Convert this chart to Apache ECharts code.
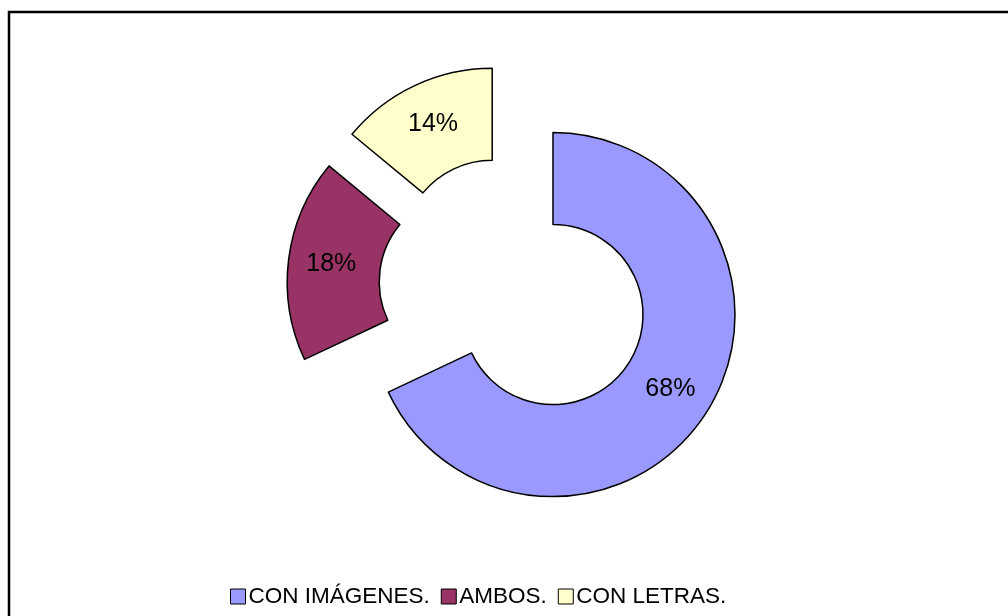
<!DOCTYPE html>
<html>
<head>
<meta charset="utf-8">
<script src="https://cdn.jsdelivr.net/npm/echarts@6/dist/echarts.min.js"></script>
<style>
  html, body { margin: 0; padding: 0; background: #fff; }
  #main { width: 1008px; height: 616px; }
</style>
</head>
<body>
<div id="main"></div>
<script>
// categories and values
var categories = ['CON IMÁGENES.', 'AMBOS.', 'CON LETRAS.'];
var values = [68, 18, 14];
var colors = ['#9999FF', '#993366', '#FFFFCC'];

// the big slice is pulled out a bit further than the two small ones
function buildData(showIdx){
    var data = [];
    for (var i = 0; i < categories.length; i++) {
        var shown = showIdx.indexOf(i) >= 0;
        data.push({
            value: values[i],
            name: categories[i],
            selected: true,
            itemStyle: shown ? { color: colors[i] } : { color: 'rgba(0,0,0,0)', borderWidth: 0 },
            select: shown ? {} : { itemStyle: { color: 'rgba(0,0,0,0)', borderWidth: 0 } },
            label: { show: shown }
        });
    }
    return data;
}

function pieSeries(showIdx, offset){
    return {
        type: 'pie',
        center: [509.5, 287],
        radius: [90, 182],
        startAngle: 90,
        clockwise: true,
        selectedMode: 'multiple',
        selectedOffset: offset,
        emphasis: { disabled: true },
        silent: true,
        itemStyle: { borderColor: '#000', borderWidth: 1.5 },
        select: { itemStyle: { borderColor: '#000', borderWidth: 1.5 } },
        label: {
            show: true,
            position: 'inside',
            formatter: '{d}%',
            fontFamily: 'Liberation Sans, Arial',
            fontSize: 25,
            color: '#000'
        },
        labelLine: { show: false },
        data: buildData(showIdx)
    };
}

function initChart(){
    var myChart = echarts.init(document.getElementById('main'));

    var legendData = [];
    for (var i = 0; i < categories.length; i++) {
        legendData.push({ name: categories[i], itemStyle: { color: colors[i], borderColor: '#000', borderWidth: 1 } });
    }

    var option = {
        animation: false,
        graphic: [
            {
                type: 'rect',
                shape: { x: 9, y: 12, width: 1200, height: 800 },
                style: { fill: 'none', stroke: '#000', lineWidth: 2.5 },
                silent: true
            }
        ],
        legend: {
            bottom: 8,
            left: 230,
            padding: 0,
            itemWidth: 15,
            itemHeight: 15,
            itemGap: 11,
            icon: 'rect',
            selectedMode: false,
            textStyle: {
                fontFamily: 'Liberation Sans, Arial',
                fontSize: 22.5,
                color: '#000',
                padding: [0, 0, 0, -2]
            },
            data: legendData
        },
        series: [
            pieSeries([0], 51.5),
            pieSeries([1, 2], 40.6)
        ]
    };
    myChart.setOption(option);
}

initChart();
</script>
</body>
</html>
